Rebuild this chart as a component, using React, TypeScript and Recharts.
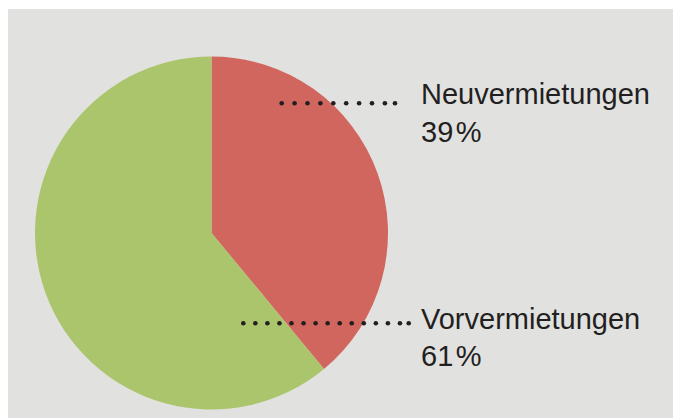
import React from "react";
import { PieChart, Pie, Cell } from "recharts";

const categories = ["Neuvermietungen", "Vorvermietungen"];
const shares = [39, 61];
const colors = ["#d1665f", "#abc56c"];

const data = categories.map((name, i) => ({ name, value: shares[i] }));

// label layout, relative to the pie centre (px)
const LABEL_LAYOUT = [
  { dotX0: 70.2, dotX1: 183.5, dotY: -129.7, gap: 12.9, textX: 209.5, line1: -128.8, line2: -91.3 },
  { dotX0: 31.8, dotX1: 197.2, dotY: 90.3, gap: 12.05, textX: 209.5, line1: 96, line2: 133 },
];

const FONT = "'Liberation Sans', Arial, Helvetica, sans-serif";
const INK = "#231f20";

const renderLabel = (props: any) => {
  const { cx, cy, index, name, value } = props;
  const l = LABEL_LAYOUT[index];
  const x0 = cx + l.dotX0;
  const x1 = cx + l.dotX1;
  const y = cy + l.dotY;
  const dots: number[] = [];
  for (let x = x0; x < x1 - l.gap * 0.6; x += l.gap) dots.push(x);
  dots.push(x1);
  return (
    <g key={`lbl-${index}`}>
      {dots.map((dx, i) => (
        <circle key={i} cx={dx} cy={y} r={2.3} fill={INK} />
      ))}
      <text x={cx + l.textX} y={cy + l.line1} fill={INK} fontSize={29} fontFamily={FONT}>
        {name}
      </text>
      <text x={cx + l.textX} y={cy + l.line2} fill={INK} fontSize={29} fontFamily={FONT}>
        {`${value}\u200A%`}
      </text>
    </g>
  );
};

export default function App() {
  return (
    <div style={{ width: 673, height: 410, marginTop: 1, background: "#e1e1e0" }}>
      <PieChart width={673} height={410} margin={{ top: 0, right: 0, bottom: 0, left: 0 }}>
        <Pie
          data={data}
          dataKey="value"
          nameKey="name"
          cx={203.5}
          cy={224}
          outerRadius={176.5}
          startAngle={90}
          endAngle={-270}
          stroke="none"
          labelLine={false}
          label={renderLabel}
          isAnimationActive={false}
        >
          {data.map((d, i) => (
            <Cell key={d.name} fill={colors[i]} />
          ))}
        </Pie>
      </PieChart>
    </div>
  );
}
